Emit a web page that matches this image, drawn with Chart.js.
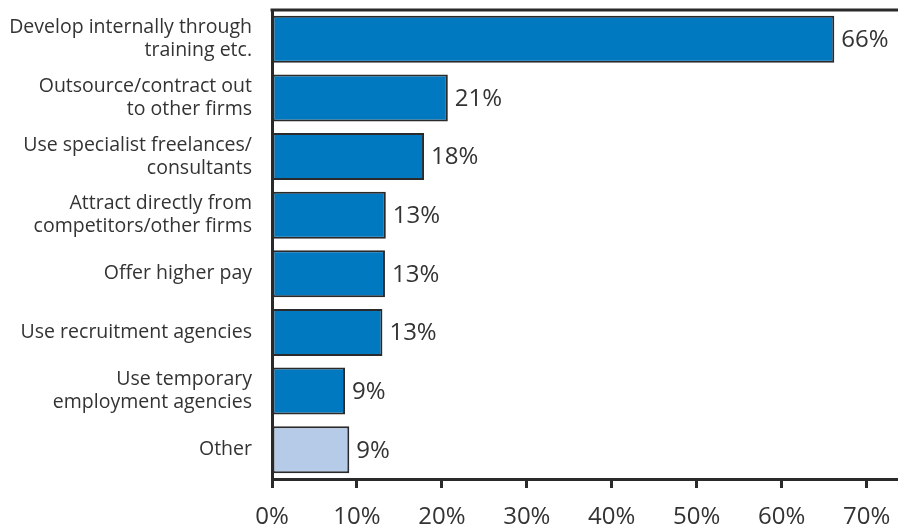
<!DOCTYPE html>
<html>
<head>
<meta charset="utf-8">
<script src="https://cdn.jsdelivr.net/npm/chart.js@4"></script>
<style>
  html, body { margin: 0; padding: 0; background: #fff; }
  #wrap { width: 898px; height: 529px; }
</style>
</head>
<body>
<div id="wrap"><canvas id="chart" width="898" height="529"></canvas></div>
<script>
const categories = [
    ['Develop internally through', 'training etc.'],
    ['Outsource/contract out', 'to other firms'],
    ['Use specialist freelances/', 'consultants'],
    ['Attract directly from', 'competitors/other firms'],
    'Offer higher pay',
    'Use recruitment agencies',
    ['Use temporary', 'employment agencies'],
    'Other'
];
const shares = [66.2, 20.7, 17.9, 13.4, 13.3, 13.0, 8.6, 9.1];
const xTicks = [0, 10, 20, 30, 40, 50, 60, 70];

const DARK = '#2a2a2a';
const TEXT = '#333333';
const FONT = '"Open Sans", "Noto Sans", sans-serif';

const barColors = shares.map((v, i) => i === shares.length - 1 ? '#b5cbe8' : '#0179c1');

// value labels next to each bar plus the top frame line
const valueLabels = {
    id: 'valueLabels',
    afterDatasetsDraw(chart) {
        const ctx = chart.ctx;
        const meta = chart.getDatasetMeta(0);
        ctx.save();
        ctx.font = '24px ' + FONT;
        ctx.fillStyle = TEXT;
        ctx.textAlign = 'left';
        ctx.textBaseline = 'middle';
        meta.data.forEach((bar, i) => {
            ctx.fillText(Math.round(shares[i]) + '%', bar.x + 7, bar.y + 1);
        });
        const area = chart.chartArea;
        ctx.strokeStyle = DARK;
        ctx.lineWidth = 3;
        ctx.beginPath();
        ctx.moveTo(area.left - 1.5, area.top);
        ctx.lineTo(chart.width, area.top);
        ctx.stroke();
        ctx.restore();
    }
};

new Chart(document.getElementById('chart'), {
    type: 'bar',
    data: {
        labels: categories,
        datasets: [{
            data: shares,
            backgroundColor: barColors,
            borderColor: DARK,
            borderWidth: 2,
            borderSkipped: false,
            barPercentage: 0.8,
            categoryPercentage: 1
        }]
    },
    options: {
        indexAxis: 'y',
        responsive: false,
        animation: false,
        layout: { padding: { top: 10, right: 0, left: 0, bottom: 0 } },
        plugins: {
            legend: { display: false },
            tooltip: { enabled: false }
        },
        scales: {
            x: {
                min: 0,
                max: 73.7,
                afterBuildTicks(scale) {
                    scale.ticks = xTicks.map(v => ({ value: v }));
                },
                afterFit(scale) {
                    scale.height = 50;
                    scale.paddingLeft = 0;
                    scale.paddingRight = 0;
                },
                border: { display: true, color: DARK, width: 3 },
                grid: {
                    drawOnChartArea: false,
                    drawTicks: true,
                    tickLength: 9,
                    tickWidth: 3,
                    tickColor: DARK
                },
                ticks: {
                    padding: 15,
                    maxRotation: 0,
                    autoSkip: false,
                    color: TEXT,
                    font: { family: FONT, size: 24 },
                    callback: v => v + '%'
                }
            },
            y: {
                afterFit(scale) {
                    scale.width = 272;
                    scale.paddingTop = 0;
                    scale.paddingBottom = 0;
                },
                border: { display: true, color: DARK, width: 3 },
                grid: { display: false },
                ticks: {
                    padding: 12,
                    color: TEXT,
                    font: { family: FONT, size: 19.5, lineHeight: 1.18 }
                }
            }
        }
    },
    plugins: [valueLabels]
});
</script>
</body>
</html>
